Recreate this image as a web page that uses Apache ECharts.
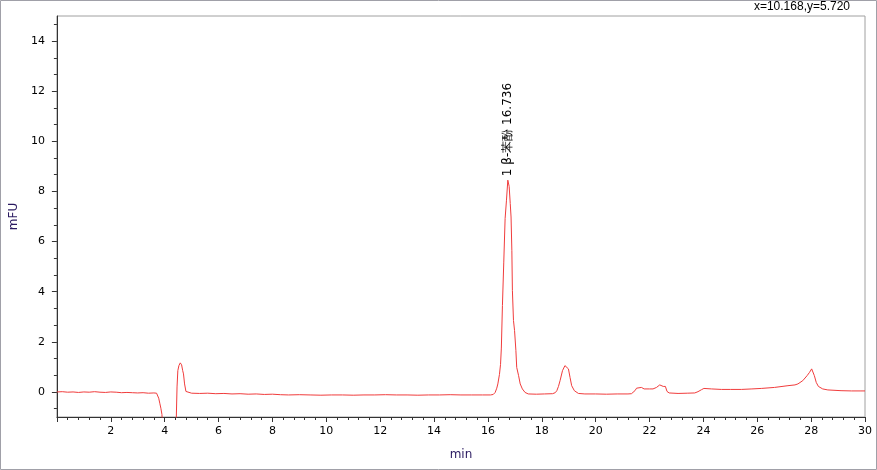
<!DOCTYPE html>
<html>
<head>
<meta charset="utf-8">
<script src="https://cdn.jsdelivr.net/npm/echarts@6/dist/echarts.min.js"></script>
<style>
html,body{margin:0;padding:0;background:#fff;}
#chart{width:877px;height:470px;}
</style>
</head>
<body>
<div id="chart"></div>
<script>
// retention time (min)
var times = [
0.00,0.20,0.40,0.60,0.80,1.00,1.20,1.40,1.60,1.80,2.00,2.20,2.40,2.60,2.80,3.00,3.20,3.40,3.60,3.70,
3.74,3.78,3.82,3.86,3.90,3.94,4.10,4.30,4.42,4.46,4.49,4.53,4.58,4.63,4.67,4.70,4.74,4.79,4.85,
5.00,5.30,5.60,5.90,6.20,6.50,6.80,7.10,7.40,7.70,8.00,8.30,8.60,9.00,9.40,9.80,10.20,10.60,11.00,11.40,
11.80,12.20,12.60,13.00,13.40,13.80,14.20,14.60,15.00,15.40,15.80,16.10,16.20,16.27,16.33,16.37,16.43,
16.47,16.50,16.54,16.59,16.64,16.69,16.74,16.79,16.83,16.86,16.89,16.91,16.95,16.99,17.04,17.07,17.14,
17.20,17.28,17.38,17.50,17.80,18.10,18.40,18.50,18.56,18.62,18.68,18.77,18.86,18.93,18.99,19.05,19.11,
19.21,19.36,19.60,20.00,20.40,20.80,21.20,21.33,21.40,21.46,21.52,21.56,21.70,21.80,22.00,22.13,22.26,
22.38,22.51,22.59,22.65,22.73,23.06,23.40,23.68,23.80,23.93,24.02,24.30,24.67,25.00,25.41,25.80,26.15,
26.64,27.14,27.40,27.51,27.69,27.85,27.94,28.02,28.07,28.12,28.19,28.27,28.43,28.62,29.11,29.50,29.85,30.00
];
// signal (mFU)
var signal = [
0.00,0.01,-0.01,0.00,-0.02,0.00,-0.01,0.01,-0.01,-0.02,0.00,-0.01,-0.03,-0.02,-0.03,-0.04,-0.03,-0.05,-0.04,-0.05,
-0.10,-0.25,-0.45,-0.65,-0.90,-1.80,-2.50,-2.50,-1.60,0.20,0.85,1.05,1.16,1.08,0.85,0.72,0.32,0.02,-0.04,
-0.05,-0.06,-0.05,-0.07,-0.06,-0.08,-0.07,-0.09,-0.08,-0.10,-0.09,-0.11,-0.12,-0.11,-0.12,-0.13,-0.12,-0.12,-0.13,-0.12,
-0.12,-0.11,-0.12,-0.12,-0.13,-0.12,-0.12,-0.11,-0.12,-0.12,-0.12,-0.12,-0.10,-0.02,0.15,0.32,0.70,
1.10,1.75,3.45,5.18,6.92,7.65,8.45,8.20,7.52,6.98,5.65,4.05,2.85,2.45,1.65,0.98,0.65,
0.32,0.12,-0.02,-0.08,-0.09,-0.08,-0.07,-0.03,0.05,0.22,0.45,0.85,1.05,1.12,0.92,0.58,0.25,
0.05,-0.06,-0.08,-0.08,-0.09,-0.08,-0.08,-0.07,-0.02,0.05,0.15,0.21,0.18,0.12,0.12,0.12,0.18,
0.28,0.22,0.22,0.02,-0.04,-0.06,-0.05,-0.04,0.01,0.09,0.14,0.12,0.10,0.10,0.10,0.12,0.14,
0.18,0.25,0.28,0.32,0.45,0.65,0.78,0.92,0.88,0.65,0.38,0.22,0.12,0.08,0.05,0.04,0.04,0.04
];
var yTickLabels = [0,2,4,6,8,10,12,14];
var yMinorTicks = [-0.6667,0.6667,1.3333,2.6667,3.3333,4.6667,5.3333,6.6667,7.3333,8.6667,9.3333,10.6667,11.3333,12.6667,13.3333,14.6667];
var peakLabel = '1 β-苯酚 16.736';
var peakTime = 16.736;
var peakHeight = 8.45;
var cursorText = 'x=10.168,y=5.720';

var data = times.map(function(t,i){return [t, signal[i]];});
var font = 'DejaVu Sans';
var chart = echarts.init(document.getElementById('chart'), null, {renderer:'canvas'});
chart.setOption({
  animation:false,
  backgroundColor:'#fff',
  textStyle:{fontFamily:font},
  grid:{left:54,right:12,top:16,bottom:53,show:true,borderColor:'#a0a0a0',borderWidth:1,backgroundColor:'#fff'},
  graphic:[
    {type:'rect',shape:{x:0.5,y:0.5,width:876,height:469},style:{fill:'none',stroke:'#a0a0a8',lineWidth:1},z:100},
    {type:'text',right:27,top:1,style:{text:cursorText,font:'12px "Liberation Sans"',fill:'#000'},z:100}
  ],
  xAxis:{
    type:'value',min:0,max:30,interval:2,
    name:'min',nameLocation:'middle',nameGap:32,
    nameTextStyle:{color:'#2a1a60',fontSize:12,fontFamily:font},
    axisLine:{show:true,onZero:false,lineStyle:{color:'#333',width:1}},
    axisTick:{show:true,length:5,lineStyle:{color:'#333'}},
    minorTick:{show:true,splitNumber:5,length:3,lineStyle:{color:'#333'}},
    axisLabel:{color:'#000',fontSize:11,fontFamily:font,margin:9,showMinLabel:false},
    splitLine:{show:false},minorSplitLine:{show:false}
  },
  yAxis:[{
    type:'value',min:-1,max:15,
    name:'mFU',nameLocation:'middle',nameGap:36,
    nameTextStyle:{color:'#2a1a60',fontSize:12,fontFamily:font},
    axisLine:{show:true,lineStyle:{color:'#333',width:1}},
    axisTick:{show:true,length:5,customValues:yTickLabels,lineStyle:{color:'#333'}},
    axisLabel:{color:'#000',fontSize:11,fontFamily:font,margin:12,customValues:yTickLabels},
    splitLine:{show:false}
  },{
    type:'value',min:-1,max:15,position:'left',
    axisLine:{show:false},
    axisTick:{show:true,length:3,customValues:yMinorTicks,lineStyle:{color:'#333'}},
    axisLabel:{show:false,customValues:yMinorTicks},
    splitLine:{show:false}
  }],
  series:[{
    type:'line',yAxisIndex:0,data:data,showSymbol:false,symbol:'none',smooth:false,
    lineStyle:{color:'#f03c3c',width:1},
    clip:true,
    markPoint:{
      symbol:'circle',symbolSize:0,
      itemStyle:{color:'rgba(0,0,0,0)'},
      data:[{coord:[peakTime,peakHeight]}],
      label:{show:true,formatter:peakLabel,rotate:90,position:'top',distance:4,
        align:'left',verticalAlign:'middle',color:'#000',fontSize:12,fontFamily:font}
    }
  }]
});
</script>
</body>
</html>
